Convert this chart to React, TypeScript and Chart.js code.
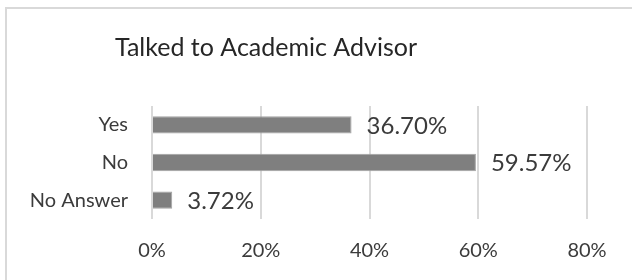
import React, { useEffect, useRef } from "react";
import { Chart, registerables } from "chart.js";

Chart.register(...registerables);

const categories = ["Yes", "No", "No Answer"];
const values = [36.7, 59.57, 3.72];
const valueLabels = ["36.70%", "59.57%", "3.72%"];
const tickValues = [0, 20, 40, 60, 80];
const title = "Talked to Academic Advisor";

const FONT = "Lato, 'Open Sans', sans-serif";
const TEXT = "#3b3b3b";

const dataLabelPlugin = {
  id: "dataLabels",
  afterDatasetsDraw(chart: any) {
    const ctx = chart.ctx;
    const meta = chart.getDatasetMeta(0);
    ctx.save();
    ctx.font = `24px ${FONT}`;
    ctx.fillStyle = TEXT;
    ctx.textAlign = "left";
    ctx.textBaseline = "middle";
    meta.data.forEach((bar: any, i: number) => {
      ctx.fillText(valueLabels[i], bar.x + 15, bar.y + 1);
    });
    ctx.restore();
  },
};

const titlePlugin = {
  id: "centeredTitle",
  afterDraw(chart: any) {
    const ctx = chart.ctx;
    ctx.save();
    ctx.font = `25px ${FONT}`;
    ctx.fillStyle = "#262626";
    ctx.textAlign = "center";
    ctx.textBaseline = "middle";
    ctx.fillText(title, 266, 48);
    ctx.restore();
  },
};

export default function App() {
  const ref = useRef<HTMLCanvasElement>(null);
  useEffect(() => {
    if (!ref.current) return;
    const chart = new Chart(ref.current, {
      type: "bar",
      data: {
        labels: categories,
        datasets: [
          {
            data: values,
            backgroundColor: "#7f7f7f",
            borderColor: "#a3a3a3",
            borderWidth: 1,
            barPercentage: 0.46,
            categoryPercentage: 1,
          },
        ],
      },
      options: {
        indexAxis: "y",
        animation: false,
        responsive: false,
        maintainAspectRatio: false,
        layout: { padding: { left: 0, right: 45, top: 106, bottom: 0 } },
        plugins: {
          legend: { display: false },
          tooltip: { enabled: false },
          title: { display: false },
        },
        scales: {
          x: {
            min: 0,
            max: 80,
            afterBuildTicks: (scale: any) => {
              scale.ticks = tickValues.map((v) => ({ value: v }));
            },
            afterFit: (scale: any) => {
              scale.height = 61;
            },
            grid: { color: "#d9d9d9", lineWidth: 2, drawTicks: false },
            border: { display: false },
            ticks: {
              padding: 20,
              color: TEXT,
              font: { family: FONT, size: 20 },
              callback: (v: any) => `${v}%`,
            },
          },
          y: {
            afterFit: (scale: any) => {
              scale.width = 152;
            },
            grid: { display: false, drawTicks: false },
            border: { display: false },
            ticks: {
              padding: 24,
              color: TEXT,
              font: { family: FONT, size: 20 },
            },
          },
        },
      },
      plugins: [dataLabelPlugin, titlePlugin],
    });
    return () => chart.destroy();
  }, []);

  return (
    <div
      style={{
        position: "fixed",
        left: 0,
        top: 0,
        width: 632,
        height: 280,
        background: "#fff",
        overflow: "hidden",
      }}
    >
      <div
        style={{
          position: "absolute",
          left: 5,
          top: 7,
          width: 800,
          height: 400,
          borderLeft: "2px solid #d9d9d9",
          borderTop: "2px solid #d9d9d9",
        }}
      />
      <canvas
        ref={ref}
        width={632}
        height={280}
        style={{ position: "absolute", left: 0, top: 0, width: 632, height: 280 }}
      />
    </div>
  );
}
